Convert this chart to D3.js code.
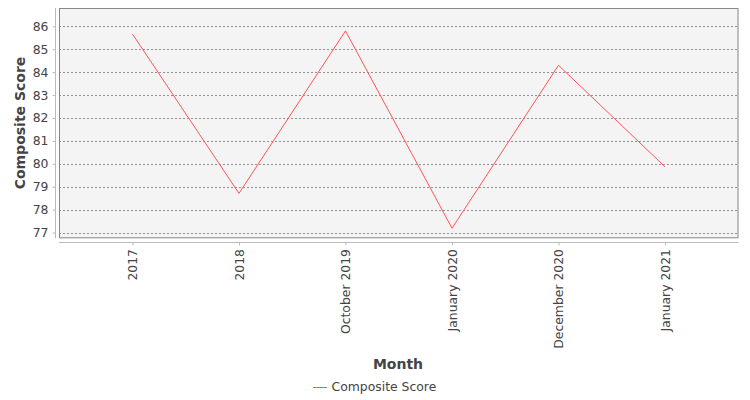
<!DOCTYPE html>
<html><head><meta charset="utf-8">
<script src="https://cdn.jsdelivr.net/npm/d3@7"></script>
<style>body{margin:0;background:#fff;} text{font-family:"DejaVu Sans",sans-serif;}</style>
</head><body>
<svg id="c" width="750" height="400"></svg>
<script>
const categories = ["2017","2018","October 2019","January 2020","December 2020","January 2021"];
const seriesName = "Composite Score";
const values = [85.66, 78.71, 85.8, 77.19, 84.3, 79.87];
const yTicks = [77,78,79,80,81,82,83,84,85,86];

const svg = d3.select("#c");
const L = 59, R = 738.5, T = 8, B = 238.3;
const x = d3.scalePoint().domain(categories).range([L, R]).padding(0.69);
const y = d3.scaleLinear().domain([76.75, 86.8]).range([B, T]);

svg.append("rect").attr("x", L).attr("y", T).attr("width", R - L).attr("height", B - T)
  .attr("fill", "#f4f4f4");

svg.append("g").selectAll("line").data(yTicks).join("line")
  .attr("x1", L).attr("x2", R).attr("y1", d => Math.round(y(d)) + 0.5).attr("y2", d => Math.round(y(d)) + 0.5)
  .attr("stroke", "#777").attr("stroke-width", 0.8).attr("stroke-dasharray", "2,2");

svg.append("rect").attr("x", L + 0.5).attr("y", T + 0.5).attr("width", R - L - 1).attr("height", B - T - 1)
  .attr("fill", "none").attr("stroke", "#888").attr("stroke-width", 1);

// y axis
const ya = svg.append("g").attr("transform", "translate(55.5,0)")
  .call(d3.axisLeft(y).tickValues(yTicks).tickSize(3).tickPadding(4).tickFormat(d3.format("d")));
ya.select(".domain").attr("d", `M0,${T}V${B}`).attr("stroke", "#bbb");
ya.selectAll(".tick line").attr("stroke", "#bbb");
ya.selectAll(".tick text").attr("fill", "#444").attr("font-size", 12.4).attr("font-family", "DejaVu Sans");

// x axis
const xa = svg.append("g").attr("transform", "translate(0,242.5)")
  .call(d3.axisBottom(x).tickSize(3).tickPadding(5));
xa.select(".domain").attr("d", `M${L},0H${R}`).attr("stroke", "#bbb");
xa.selectAll(".tick line").attr("stroke", "#bbb");
xa.selectAll(".tick text").attr("fill", "#444").attr("font-size", 12.4).attr("font-family", "DejaVu Sans")
  .attr("transform", "rotate(-90)").attr("text-anchor", "end").attr("x", -6.5).attr("y", 0).attr("dy", "0.35em");

// line
svg.append("path").datum(values)
  .attr("d", d3.line().x((d, i) => x(categories[i])).y(d => y(d)))
  .attr("fill", "none").attr("stroke", "#ff5555").attr("stroke-width", 1);

// titles
svg.append("text").attr("transform", "translate(24.5,123) rotate(-90)").attr("text-anchor", "middle")
  .attr("font-size", 14).attr("font-weight", "bold").attr("fill", "#444").text("Composite Score");
svg.append("text").attr("x", 398).attr("y", 369).attr("text-anchor", "middle")
  .attr("font-size", 14).attr("font-weight", "bold").attr("fill", "#444").text("Month");

// legend
const lg = svg.append("g").attr("transform", "translate(313,387)");
lg.append("line").attr("x1", 0).attr("x2", 14).attr("y1", 0.5).attr("y2", 0.5).attr("stroke", "#ff5555");
lg.append("text").attr("x", 18.5).attr("y", 0).attr("dy", "0.35em").attr("font-size", 12.4).attr("fill", "#444").text(seriesName);
</script>
</body></html>
